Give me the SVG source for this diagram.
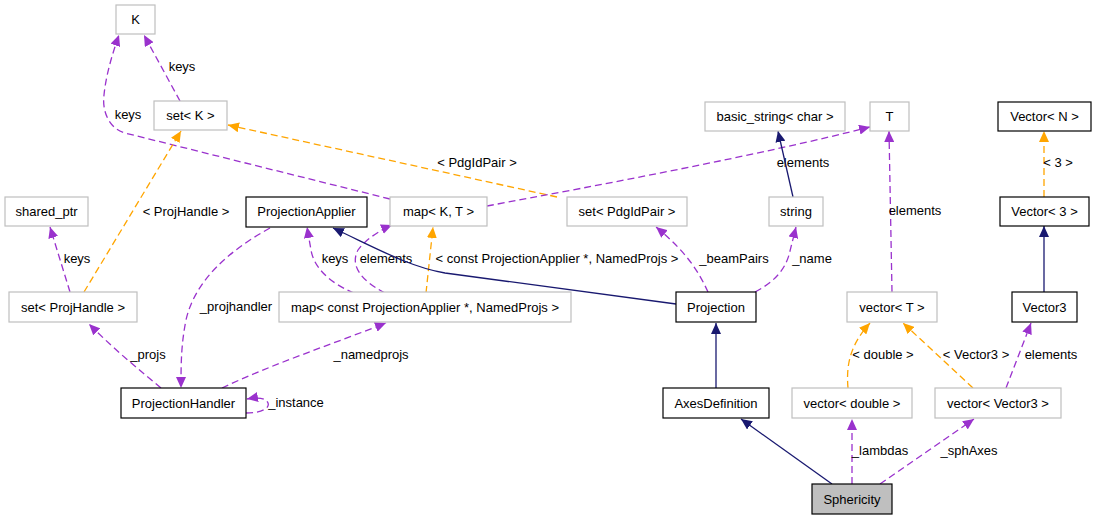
<svg xmlns="http://www.w3.org/2000/svg" width="1095" height="520" viewBox="0 0 1095 520">
<style>
text{font-family:"Liberation Sans",Arial,sans-serif;font-size:13px;fill:#000;text-anchor:middle}
.g rect{fill:#fff;stroke:#bfbfbf;stroke-width:1.2}
.b rect{fill:#fff;stroke:#000;stroke-width:1.2}
.s rect{fill:#bfbfbf;stroke:#000;stroke-width:1.2}
.p{fill:none;stroke:#9a32cd;stroke-width:1.3;stroke-dasharray:7,4;marker-end:url(#ap)}
.o{fill:none;stroke:#ffa500;stroke-width:1.3;stroke-dasharray:7,4;marker-end:url(#ao)}
.n{fill:none;stroke:#191970;stroke-width:1.3;marker-end:url(#an)}
</style>
<defs>
<marker id="ap" viewBox="0 0 11 10" refX="11" refY="5" markerWidth="11" markerHeight="10" markerUnits="userSpaceOnUse" orient="auto"><path d="M0,0L11,5L0,10z" fill="#9a32cd"/></marker>
<marker id="ao" viewBox="0 0 11 10" refX="11" refY="5" markerWidth="11" markerHeight="10" markerUnits="userSpaceOnUse" orient="auto"><path d="M0,0L11,5L0,10z" fill="#ffa500"/></marker>
<marker id="an" viewBox="0 0 11 10" refX="11" refY="5" markerWidth="11" markerHeight="10" markerUnits="userSpaceOnUse" orient="auto"><path d="M0,0L11,5L0,10z" fill="#191970"/></marker>
</defs>
<rect width="1095" height="520" fill="#fff"/>
<g id="edges">
<path class="p" d="M180,101 L144,35"/>
<text x="182" y="71">keys</text>
<path class="p" d="M390,199 L125,133 C108,128 102,110 104,95 C106,75 112,55 119,35"/>
<text x="128" y="119">keys</text>
<path class="o" d="M557,197 L228,125"/>
<text x="477" y="167">&lt; PdgIdPair &gt;</text>
<path class="p" d="M487,206 C600,185 760,155 870,127"/>
<text x="803" y="167">elements</text>
<path class="n" d="M793,197 L778,131"/>
<path class="p" d="M892,292 L889,131"/>
<text x="915" y="215">elements</text>
<path class="o" d="M1044,197 L1044,131"/>
<text x="1058" y="167">&lt; 3 &gt;</text>
<path class="n" d="M1044,292 L1044,226"/>
<path class="p" d="M70,292 L50,227"/>
<text x="77" y="263">keys</text>
<path class="o" d="M84,292 L181,131"/>
<text x="186" y="216">&lt; ProjHandle &gt;</text>
<path class="p" d="M270,228 C230,250 195,280 186,320 C181,345 181,365 181,388"/>
<text x="236" y="311">_projhandler</text>
<path class="p" d="M354,293 C330,283 314,268 311,250 L307,227"/>
<text x="335" y="263">keys</text>
<path class="p" d="M385,293 C360,280 350,265 358,250 C365,240 380,230 392,225"/>
<text x="386" y="263">elements</text>
<path class="o" d="M426,293 L433,227"/>
<text x="557" y="263">&lt; const ProjectionApplier *, NamedProjs &gt;</text>
<path class="n" d="M676,304 L445,273 C410,267 380,250 333,228"/>
<path class="p" d="M708,292 C700,275 690,255 656,227"/>
<text x="734" y="263">_beamPairs</text>
<path class="p" d="M755,292 C772,283 784,272 789,255 L796,227"/>
<text x="812" y="263">_name</text>
<path class="p" d="M161,388 C140,370 120,355 89,324"/>
<text x="148" y="359">_projs</text>
<path class="p" d="M222,388 C270,365 330,345 386,323"/>
<text x="371" y="359">_namedprojs</text>
<path class="p" d="M246,413 C262,413 270,408 268,403 C266,398 258,397 247,399"/>
<text x="296" y="407">_instance</text>
<path class="n" d="M716,388 L716,323"/>
<path class="n" d="M832,484 L741,419"/>
<path class="p" d="M852,484 L852,419"/>
<text x="880" y="455">_lambdas</text>
<path class="p" d="M880,484 L974,419"/>
<text x="969" y="455">_sphAxes</text>
<path class="o" d="M848,388 C846,365 850,345 870,323"/>
<text x="883" y="359">&lt; double &gt;</text>
<path class="o" d="M973,388 L903,323"/>
<text x="976" y="359">&lt; Vector3 &gt;</text>
<path class="p" d="M1006,388 L1031,323"/>
<text x="1051" y="359">elements</text>
</g>
<g id="n_K" class="g"><rect x="116" y="5" width="39" height="29"/><text x="135.5" y="24">K</text></g>
<g id="n_setK" class="g"><rect x="154" y="101" width="73" height="29"/><text x="190.5" y="120">set&lt; K &gt;</text></g>
<g id="n_shared_ptr" class="g"><rect x="5" y="197" width="83" height="29"/><text x="46.5" y="216">shared_ptr</text></g>
<g id="n_ProjectionApplier" class="b"><rect x="246" y="197" width="121" height="30"/><text x="306.5" y="216">ProjectionApplier</text></g>
<g id="n_mapKT" class="g"><rect x="390" y="197" width="97" height="29"/><text x="438.5" y="216">map&lt; K, T &gt;</text></g>
<g id="n_setPdg" class="g"><rect x="567" y="197" width="120" height="29"/><text x="627" y="216">set&lt; PdgIdPair &gt;</text></g>
<g id="n_basic_string" class="g"><rect x="705" y="102" width="140" height="29"/><text x="775" y="121">basic_string&lt; char &gt;</text></g>
<g id="n_T" class="g"><rect x="870" y="102" width="39" height="29"/><text x="889.5" y="121">T</text></g>
<g id="n_VectorN" class="b"><rect x="998" y="102" width="93" height="29"/><text x="1044.5" y="121">Vector&lt; N &gt;</text></g>
<g id="n_string" class="g"><rect x="769" y="197" width="54" height="29"/><text x="796" y="216">string</text></g>
<g id="n_Vector3t" class="b"><rect x="1000" y="197" width="89" height="29"/><text x="1044.5" y="216">Vector&lt; 3 &gt;</text></g>
<g id="n_setProjHandle" class="g"><rect x="9" y="292" width="128" height="30"/><text x="73" y="312">set&lt; ProjHandle &gt;</text></g>
<g id="n_mapConst" class="g"><rect x="279" y="292" width="292" height="30"/><text x="425" y="312">map&lt; const ProjectionApplier *, NamedProjs &gt;</text></g>
<g id="n_Projection" class="b"><rect x="676" y="292" width="80" height="30"/><text x="716" y="312">Projection</text></g>
<g id="n_vectorT" class="g"><rect x="847" y="292" width="90" height="30"/><text x="892" y="312">vector&lt; T &gt;</text></g>
<g id="n_Vector3" class="b"><rect x="1012" y="292" width="65" height="30"/><text x="1044.5" y="312">Vector3</text></g>
<g id="n_ProjectionHandler" class="b"><rect x="121" y="388" width="125" height="30"/><text x="183.5" y="408">ProjectionHandler</text></g>
<g id="n_AxesDefinition" class="b"><rect x="663" y="388" width="106" height="30"/><text x="716" y="408">AxesDefinition</text></g>
<g id="n_vectorDouble" class="g"><rect x="792" y="388" width="120" height="30"/><text x="852" y="408">vector&lt; double &gt;</text></g>
<g id="n_vectorVector3" class="g"><rect x="935" y="388" width="126" height="30"/><text x="998" y="408">vector&lt; Vector3 &gt;</text></g>
<g id="n_Sphericity" class="s"><rect x="812" y="484" width="80" height="30"/><text x="852" y="504">Sphericity</text></g>
</svg>
